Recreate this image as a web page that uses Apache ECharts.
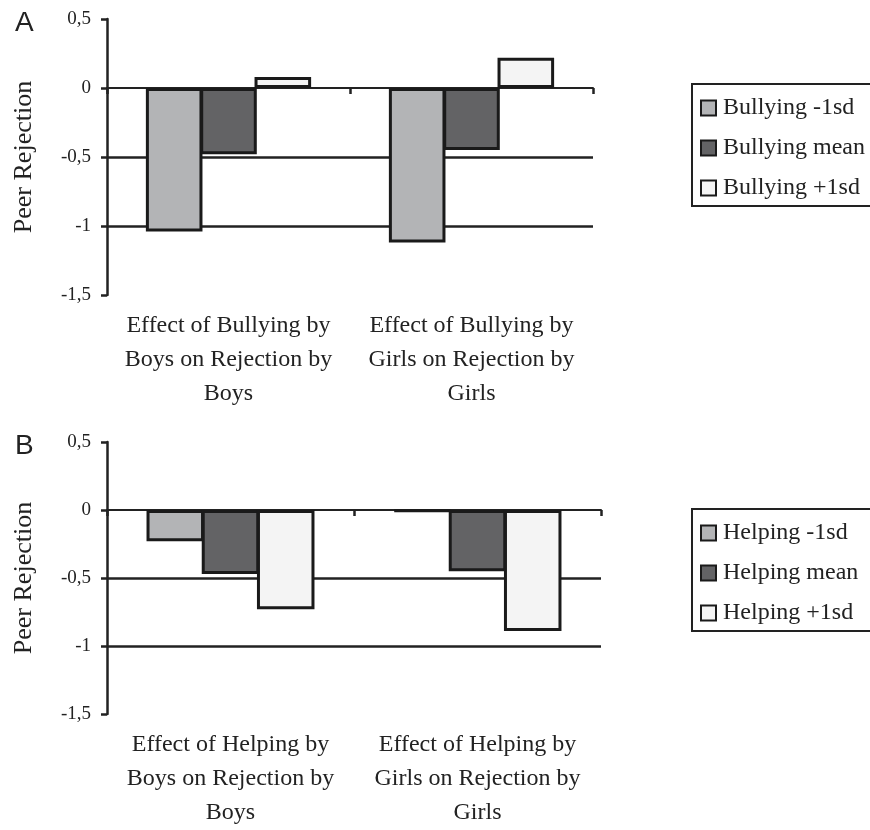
<!DOCTYPE html>
<html lang="en">
<head>
    <meta charset="UTF-8">
    <title>Peer Rejection</title>
    <script src="https://cdn.jsdelivr.net/npm/echarts@6.0.0/dist/echarts.min.js"></script>
    <style>
        * { margin: 0; padding: 0; }
        body { background: #fff; }
        #chart { width: 870px; height: 830px; }
    </style>
</head>
<body>
    <div id="chart"></div>
    <script>
        // data
        const catsA = ['Effect of Bullying by\nBoys on Rejection by\nBoys', 'Effect of Bullying by\nGirls on Rejection by\nGirls'];
        const catsB = ['Effect of Helping by\nBoys on Rejection by\nBoys', 'Effect of Helping by\nGirls on Rejection by\nGirls'];
        const namesA = ['Bullying -1sd', 'Bullying mean', 'Bullying +1sd'];
        const namesB = ['Helping -1sd', 'Helping mean', 'Helping +1sd'];
        const valuesA = [
            [-1.04, -1.12],
            [-0.48, -0.45],
            [0.08, 0.22]
        ];
        const valuesB = [
            [-0.23, -0.01],
            [-0.47, -0.45],
            [-0.73, -0.89]
        ];
        const gridValues = [-0.5, -1];
        const barColors = ['#b3b4b6', '#636365', '#f4f4f4'];

        const serif = 'Liberation Serif';
        const chart = echarts.init(document.getElementById('chart'));

        function yAxisFor(idx) {
            return {
                type: 'value', gridIndex: idx, min: -1.5, max: 0.5, interval: 0.5,
                name: 'Peer Rejection', nameLocation: 'middle', nameGap: 70, nameRotate: 90,
                nameTextStyle: { fontFamily: serif, fontSize: 26, color: '#222' },
                axisLine: { show: true, lineStyle: { color: '#222', width: 2.5 } },
                axisTick: { show: true, length: 6, lineStyle: { color: '#222', width: 2.5 } },
                axisLabel: {
                    fontFamily: serif, fontSize: 19, color: '#222', margin: 16,
                    formatter: v => String(v).replace('.', ',')
                },
                splitLine: { show: false }
            };
        }
        function zeroAxis(idx, cats) {
            return {
                type: 'category', gridIndex: idx, data: cats,
                axisLine: { onZero: true, lineStyle: { color: '#222', width: 2 } },
                axisTick: { show: true, length: 6, lineStyle: { color: '#222', width: 2.5 } },
                axisLabel: { show: false }
            };
        }
        function labelAxis(idx, cats) {
            return {
                type: 'category', gridIndex: idx, data: cats, position: 'bottom',
                axisLine: { show: false, onZero: false },
                axisTick: { show: false },
                axisLabel: { fontFamily: serif, fontSize: 24, color: '#222', lineHeight: 34, margin: 14, interval: 0 }
            };
        }
        function barsFor(names, values, axisIdx) {
            return names.map((n, i) => ({
                name: n, type: 'bar', xAxisIndex: axisIdx, yAxisIndex: axisIdx / 2,
                data: values[i], barGap: '-4%', barCategoryGap: '32%', z: 3,
                itemStyle: { color: barColors[i], borderColor: '#1a1a1a', borderWidth: 3 }
            }));
        }
        function gridLines(axisIdx) {
            return {
                type: 'line', xAxisIndex: axisIdx, yAxisIndex: axisIdx / 2, data: [], z: 1, silent: true,
                markLine: {
                    silent: true, symbol: 'none', z: 1, label: { show: false },
                    lineStyle: { color: '#222', width: 2.5, type: 'solid' },
                    data: gridValues.map(v => ({ yAxis: v }))
                }
            };
        }
        function legendFor(names, left, top) {
            return {
                data: names, orient: 'vertical', left: left, top: top,
                borderColor: '#222', borderWidth: 2, padding: [12, 40, 6, 8],
                itemWidth: 15, itemHeight: 15, itemGap: 16, icon: 'rect',
                textStyle: { fontFamily: serif, fontSize: 24, color: '#222', padding: [0, 0, 0, 2] }
            };
        }

        const option = {
            animation: false,
            title: [
                { text: 'A', left: 10, top: 4, textStyle: { fontFamily: 'Liberation Sans', fontSize: 28, fontWeight: 'normal', color: '#222' } },
                { text: 'B', left: 10, top: 427, textStyle: { fontFamily: 'Liberation Sans', fontSize: 28, fontWeight: 'normal', color: '#222' } }
            ],
            grid: [
                { left: 107, top: 19, width: 486, height: 276 },
                { left: 107, top: 442, width: 494, height: 281 }
            ],
            xAxis: [zeroAxis(0, catsA), labelAxis(0, catsA), zeroAxis(1, catsB), labelAxis(1, catsB)],
            yAxis: [yAxisFor(0), yAxisFor(1)],
            legend: [legendFor(namesA, 692, 84), legendFor(namesB, 692, 509)],
            series: [
                gridLines(0),
                gridLines(2),
                ...barsFor(namesA, valuesA, 0),
                ...barsFor(namesB, valuesB, 2)
            ]
        };
        chart.setOption(option);
    </script>
</body>
</html>
